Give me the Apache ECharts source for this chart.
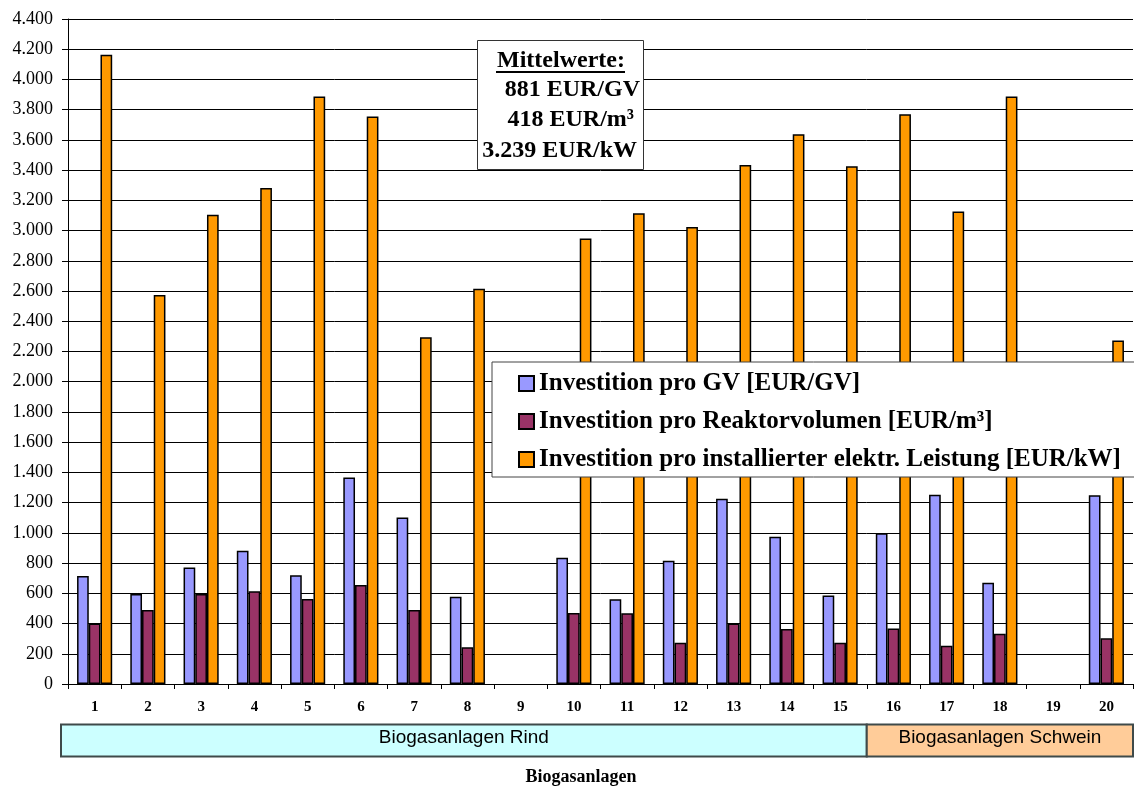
<!DOCTYPE html>
<html><head><meta charset="utf-8">
<script src="https://cdn.jsdelivr.net/npm/echarts@6/dist/echarts.min.js"></script>
<style>html,body{margin:0;padding:0;background:#fff}#c{width:1134px;height:789px}</style>
</head><body><div id="c"></div>
<script>
const categories = ['1','2','3','4','5','6','7','8','9','10','11','12','13','14','15','16','17','18','19','20'];
const investGV       = [715, 596, 771, 881, 720, 1367, 1101, 578, null, 835, 561, 815, 1226, 975, 586, 998, 1252, 670, null, 1249];
const investReaktor  = [401, 490, 596, 613, 562, 655, 490, 243, null, 470, 468, 273, 401, 364, 273, 368, 253, 333, null, 302];
const investKW       = [4164, 2574, 3104, 3282, 3888, 3755, 2295, 2616, null, 2947, 3114, 3024, 3434, 3638, 3426, 3770, 3127, 3887, null, 2272];
const seriesNames = [
  'Investition pro GV [EUR/GV]',
  'Investition pro Reaktorvolumen [EUR/m³]',
  'Investition pro installierter elektr. Leistung [EUR/kW]'
];
const seriesColors = ['#9999FF', '#993366', '#FF9900'];
const yMin = 0, yMax = 4400, yStep = 200;
const summaryTitle = 'Mittelwerte:';
const summaryLines = ['881 EUR/GV', '418 EUR/m³', '3.239 EUR/kW'];
const groupNames = ['Biogasanlagen Rind', 'Biogasanlagen Schwein'];
const groupFirst = [0, 15];
const groupLast = [14, 19];
const groupColors = ['#CCFFFF', '#FFCC99'];
const axisTitle = 'Biogasanlagen';

const SERIF = '"Liberation Serif","Times New Roman",serif';
const SANS = '"Liberation Sans",Arial,sans-serif';
function fmt(v){ return String(v).replace(/\B(?=(\d{3})+(?!\d))/g, '.'); }

const chart = echarts.init(document.getElementById('c'), null, {renderer:'canvas'});
const dataSets = [investGV, investReaktor, investKW];

chart.setOption({
  animation: false,
  backgroundColor: '#fff',
  grid: {left: 68, right: 1, top: 19, bottom: 105, containLabel: false},
  legend: {
    orient: 'vertical', left: 492, top: 362,
    backgroundColor: '#fff', borderColor: '#444', borderWidth: 1,
    padding: [9, 14, 5, 26], itemGap: 13, itemWidth: 15, itemHeight: 15,
    itemTextGap: 7,
    icon: 'rect',
    textStyle: {fontFamily: SERIF, fontWeight: 'bold', fontSize: 25, color: '#000'},
    data: seriesNames, z: 20
  },
  xAxis: {
    type: 'category', data: categories,
    axisLine: {show: true, lineStyle: {color: '#000', width: 1}},
    axisTick: {show: true, length: 5, lineStyle: {color: '#000'}},
    axisLabel: {interval: 0, margin: 16, fontFamily: SERIF, fontWeight: 'bold', fontSize: 15, color: '#000'},
    splitLine: {show: false}
  },
  yAxis: {
    type: 'value', min: yMin, max: yMax, interval: yStep,
    axisLine: {show: true, lineStyle: {color: '#000', width: 1}},
    axisTick: {show: true, length: 6, lineStyle: {color: '#000'}},
    axisLabel: {margin: 15, fontFamily: SERIF, fontSize: 18, color: '#000', formatter: fmt},
    splitLine: {show: true, lineStyle: {color: '#000', width: 1}}
  },
  series: dataSets.map((d, i) => ({
    type: 'bar', name: seriesNames[i], data: d,
    barGap: '0%', barCategoryGap: '34%',
    itemStyle: {color: seriesColors[i], borderColor: '#000', borderWidth: 1.5},
    emphasis: {disabled: true}
  }))
});

function buildGraphics(){
  const c0 = chart.convertToPixel({xAxisIndex: 0}, categories[0]);
  const c1 = chart.convertToPixel({xAxisIndex: 0}, categories[1]);
  const bw = c1 - c0;
  const els = [];
  for (let g = 0; g < groupNames.length; g++) {
    let x0 = chart.convertToPixel({xAxisIndex: 0}, categories[groupFirst[g]]) - bw / 2;
    const x1 = chart.convertToPixel({xAxisIndex: 0}, categories[groupLast[g]]) + bw / 2;
    if (g === 0) x0 -= 7;
    els.push({type: 'rect', shape: {x: x0, y: 724.5, width: x1 - x0, height: 32},
      style: {fill: groupColors[g], stroke: '#3f4a4a', lineWidth: 2}, z: 10});
    els.push({type: 'text', x: (x0 + x1) / 2, y: 738, style: {text: groupNames[g], font: '19px ' + SANS,
      fill: '#000', align: 'center', verticalAlign: 'middle'}, z: 11});
  }
  els.push({type: 'text', x: 581, y: 777, style: {text: axisTitle, font: 'bold 18px ' + SERIF,
    fill: '#000', align: 'center', verticalAlign: 'middle'}, z: 11});
  // summary box
  els.push({type: 'rect', shape: {x: 477.5, y: 40.5, width: 166, height: 129},
    style: {fill: '#fff', stroke: '#333', lineWidth: 1}, z: 30});
  els.push({type: 'text', x: 561, y: 61, style: {text: summaryTitle, font: 'bold 24px ' + SERIF,
    fill: '#000', align: 'center', verticalAlign: 'middle'}, z: 31});
  els.push({type: 'rect', shape: {x: 496, y: 71, width: 129, height: 2}, style: {fill: '#000'}, z: 31});
  const ys = [90, 120, 151];
  const xs = [640, 634, 637];
  summaryLines.forEach((t, i) => {
    els.push({type: 'text', x: xs[i], y: ys[i], style: {text: t, font: 'bold 24px ' + SERIF,
      fill: '#000', align: 'right', verticalAlign: 'middle'}, z: 31});
  });
  chart.setOption({graphic: {elements: els}});
}
buildGraphics();
</script></body></html>
